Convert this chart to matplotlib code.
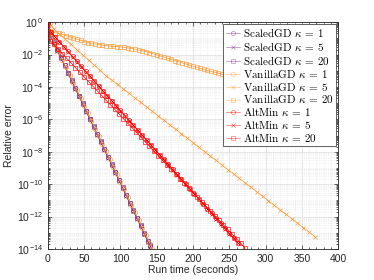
import numpy as np
import matplotlib
matplotlib.use("Agg")
import matplotlib.pyplot as plt
from matplotlib.ticker import FixedLocator, MultipleLocator, FuncFormatter, NullFormatter
from matplotlib.font_manager import FontProperties

plt.rcParams['mathtext.fontset'] = 'custom'
plt.rcParams['mathtext.rm'] = 'cmr10'
plt.rcParams['mathtext.it'] = 'cmmi10'
plt.rcParams['mathtext.sf'] = 'Liberation Sans'
plt.rcParams['mathtext.fallback'] = 'cm'
plt.rcParams['font.family'] = ['Liberation Sans', 'DejaVu Sans']

# ---------------- data (log10 of relative error vs run time in seconds) ----------------
t_scaled = [0, 3, 8, 13, 18, 23, 28, 33, 38, 43, 48, 53, 58, 63, 68, 73, 78, 83, 88, 93,
            98, 103, 108, 113, 118, 123, 128, 133, 138, 141]
scaled_k1 = [0, -0.78, -1.26, -1.73, -2.20, -2.67, -3.14, -3.62, -4.09, -4.56, -5.03, -5.50,
             -5.98, -6.45, -6.92, -7.39, -7.86, -8.34, -8.81, -9.28, -9.75, -10.22, -10.70,
             -11.17, -11.64, -12.11, -12.58, -13.06, -13.53, -13.81]
scaled_k5 = [0, -0.80, -1.29, -1.76, -2.23, -2.70, -3.17, -3.65, -4.12, -4.59, -5.06, -5.53,
             -6.01, -6.48, -6.95, -7.42, -7.89, -8.37, -8.84, -9.31, -9.78, -10.25, -10.73,
             -11.20, -11.67, -12.14, -12.61, -13.09, -13.56, -13.84]
scaled_k20 = [0, -0.76, -1.23, -1.70, -2.17, -2.64, -3.11, -3.59, -4.06, -4.53, -5.00, -5.47,
              -5.95, -6.42, -6.89, -7.36, -7.83, -8.31, -8.78, -9.25, -9.72, -10.19, -10.67,
              -11.14, -11.61, -12.08, -12.55, -13.03, -13.50, -13.78]

t_van1 = [0, 5, 10, 15, 20, 25, 30, 35, 40, 45, 50, 55, 60, 65, 70, 75, 80, 85, 90, 95,
          100, 105, 110, 115, 120, 125, 130, 135, 140, 144]
van_k1 = [0, -0.92, -1.39, -1.86, -2.33, -2.80, -3.27, -3.74, -4.21, -4.68, -5.16, -5.63,
          -6.10, -6.57, -7.04, -7.51, -7.98, -8.45, -8.92, -9.39, -9.86, -10.33, -10.80,
          -11.27, -11.74, -12.21, -12.68, -13.15, -13.62, -13.98]

t_van5 = [0, 4, 8, 16, 24, 32, 40, 48, 56, 64, 72, 80, 88, 96, 104, 112, 120, 128, 136, 144,
          152, 160, 168, 176, 184, 192, 200, 208, 216, 224, 232, 240, 248, 256, 264, 272,
          280, 288, 296, 304, 312, 320, 328, 336, 344, 352, 360, 368]
van_k5 = [0, -0.20, -0.40, -0.74, -1.06, -1.38, -1.70, -2.02, -2.34, -2.66, -2.98, -3.30,
          -3.58, -3.85, -4.13, -4.40, -4.68, -4.96, -5.23, -5.51, -5.78, -6.06, -6.34, -6.61,
          -6.89, -7.16, -7.44, -7.72, -7.99, -8.27, -8.54, -8.82, -9.10, -9.37, -9.65, -9.92,
          -10.20, -10.48, -10.75, -11.03, -11.30, -11.58, -11.86, -12.13, -12.41, -12.68,
          -12.96, -13.24]

t_van20 = [0, 3, 5, 10, 15, 20, 25, 30, 35, 40, 45, 50, 55, 60, 65, 70, 75, 80, 85, 90, 95,
           100, 105, 110, 115, 120, 125, 130, 135, 140, 145, 150, 155, 160, 165, 170, 175,
           180, 185, 190, 195, 200, 205, 210, 215, 220, 225, 230, 235, 240, 245, 250, 260,
           270, 280, 290, 300, 310, 320, 330, 340, 350, 360, 368]
van_k20 = [0, -0.55, -0.60, -0.65, -0.70, -0.76, -0.83, -0.90, -0.97, -1.05, -1.13, -1.20,
           -1.26, -1.31, -1.35, -1.39, -1.42, -1.45, -1.47, -1.49, -1.51, -1.53, -1.56, -1.59,
           -1.63, -1.67, -1.72, -1.77, -1.82, -1.88, -1.95, -2.02, -2.09, -2.16, -2.23, -2.30,
           -2.37, -2.44, -2.51, -2.58, -2.65, -2.72, -2.79, -2.86, -2.92, -2.98, -3.04, -3.10,
           -3.16, -3.22, -3.28, -3.34, -3.46, -3.58, -3.70, -3.82, -3.94, -4.06, -4.18, -4.30,
           -4.42, -4.54, -4.66, -4.76]

t_alt = [0, 4, 10, 16, 22, 28, 34, 40, 46, 52, 58, 64, 70, 76, 82, 88, 94, 100, 106, 112, 118,
         124, 130, 136, 142, 148, 154, 160, 166, 172, 178, 184, 190, 196, 202, 208, 214, 220,
         226, 232, 238, 244, 250, 256, 262]
alt_k1 = [0, -0.60, -0.91, -1.21, -1.51, -1.81, -2.12, -2.42, -2.72, -3.03, -3.33, -3.63,
          -3.94, -4.24, -4.54, -4.84, -5.15, -5.45, -5.75, -6.06, -6.36, -6.66, -6.97, -7.27,
          -7.57, -7.87, -8.18, -8.48, -8.78, -9.09, -9.39, -9.69, -10.00, -10.30, -10.60,
          -10.90, -11.21, -11.51, -11.81, -12.12, -12.42, -12.72, -13.03, -13.33, -13.63]
alt_k5 = [0, -0.62, -0.93, -1.23, -1.53, -1.83, -2.14, -2.44, -2.74, -3.05, -3.35, -3.65,
          -3.96, -4.26, -4.56, -4.86, -5.17, -5.47, -5.77, -6.08, -6.38, -6.68, -6.99, -7.29,
          -7.59, -7.89, -8.20, -8.50, -8.80, -9.11, -9.41, -9.71, -10.02, -10.32, -10.62,
          -10.92, -11.23, -11.53, -11.83, -12.14, -12.44, -12.74, -13.05, -13.35, -13.65]

t_alt20 = [0, 3, 8, 14, 20, 26, 32, 38, 44, 50, 56, 62, 68, 74, 80, 86, 92, 98, 104, 110, 116,
           122, 128, 134, 140, 146, 152, 158, 164, 170, 176, 182, 188, 194, 200, 206, 212, 218,
           224, 230, 236, 242, 248, 254, 260, 266, 272]
alt_k20 = [0, -1.14, -1.38, -1.67, -1.95, -2.24, -2.52, -2.81, -3.09, -3.38, -3.67, -3.95,
           -4.24, -4.52, -4.81, -5.09, -5.38, -5.66, -5.95, -6.24, -6.52, -6.81, -7.09, -7.38,
           -7.66, -7.95, -8.24, -8.52, -8.81, -9.09, -9.38, -9.66, -9.95, -10.23, -10.52,
           -10.81, -11.09, -11.38, -11.66, -11.95, -12.23, -12.52, -12.80, -13.09, -13.38,
           -13.66, -13.95]

labels = [r'ScaledGD $\kappa$ = 1', r'ScaledGD $\kappa$ = 5', r'ScaledGD $\kappa$ = 20',
          r'VanillaGD $\kappa$ = 1', r'VanillaGD $\kappa$ = 5', r'VanillaGD $\kappa$ = 20',
          r'AltMin $\kappa$ = 1', r'AltMin $\kappa$ = 5', r'AltMin $\kappa$ = 20']
x_ticks = [0, 50, 100, 150, 200, 250, 300, 350, 400]
y_tick_exps = [0, -2, -4, -6, -8, -10, -12, -14]

# ---------------- styles ----------------
purple = '#7E2F8E'
orange = '#FF9933'
red = '#FF0000'
series = [
    (t_scaled, scaled_k1, purple, 'o', 3.0),
    (t_scaled, scaled_k5, purple, 'x', 2.6),
    (t_scaled, scaled_k20, purple, 's', 2.6),
    (t_van1, van_k1, orange, 'o', 3.0),
    (t_van5, van_k5, orange, 'x', 2.4),
    (t_van20, van_k20, orange, 's', 2.6),
    (t_alt, alt_k1, red, 'o', 3.0),
    (t_alt, alt_k5, red, 'x', 2.6),
    (t_alt20, alt_k20, red, 's', 2.6),
]

fig = plt.figure(figsize=(3.74, 2.80), dpi=100)
ax = fig.add_axes([0.128, 0.111, 0.776, 0.810])

for (t, lv, c, m, ms), lab in zip(series, labels):
    ax.semilogy(t, 10.0 ** np.array(lv), color=c, marker=m, markersize=ms,
                markerfacecolor='none', markeredgewidth=0.45, linewidth=0.5, label=lab)

ax.set_xlim(0, 400)
ax.set_ylim(1e-14, 1e0)
ax.xaxis.set_major_locator(FixedLocator(x_ticks))
ax.xaxis.set_minor_locator(MultipleLocator(10))
ax.yaxis.set_major_locator(FixedLocator([10.0 ** e for e in y_tick_exps]))
minor_y = [s * 10.0 ** e for e in range(-14, 0) for s in range(1, 10) if not (s == 1 and e % 2 == 0)]
ax.yaxis.set_minor_locator(FixedLocator(minor_y))
ax.yaxis.set_minor_formatter(NullFormatter())
ax.yaxis.set_major_formatter(FuncFormatter(
    lambda v, p: r'$\mathsf{10}^{\mathsf{%d}}$' % int(round(np.log10(v)))))

ax.grid(which='major', color='#dcdcdc', linewidth=0.5)
ax.grid(which='minor', color='#e6e6e6', linewidth=0.5, linestyle=':')
ax.set_axisbelow(True)

ax.tick_params(which='both', direction='in', top=True, right=True, colors='#262626',
               labelsize=7.5, width=0.5)
ax.tick_params(which='major', length=3)
ax.tick_params(which='minor', length=1.5)
for s in ax.spines.values():
    s.set_linewidth(0.6)
    s.set_color('#262626')

ax.set_xlabel('Run time (seconds)', fontsize=7.5, color='#262626', labelpad=1)
ax.set_ylabel('Relative error', fontsize=7.5, color='#262626', labelpad=2)

leg = ax.legend(loc='upper right', bbox_to_anchor=(1.0, 1.0), borderaxespad=0.15,
                prop=FontProperties(family='cmr10', size=8.0), handlelength=1.3,
                handletextpad=0.3, borderpad=0.2, labelspacing=0.08, fancybox=False,
                framealpha=1.0, edgecolor='#262626')
leg.get_frame().set_linewidth(0.5)
for h in leg.legend_handles:
    h.set_alpha(0.6)

fig.savefig('out.png', dpi=100)
